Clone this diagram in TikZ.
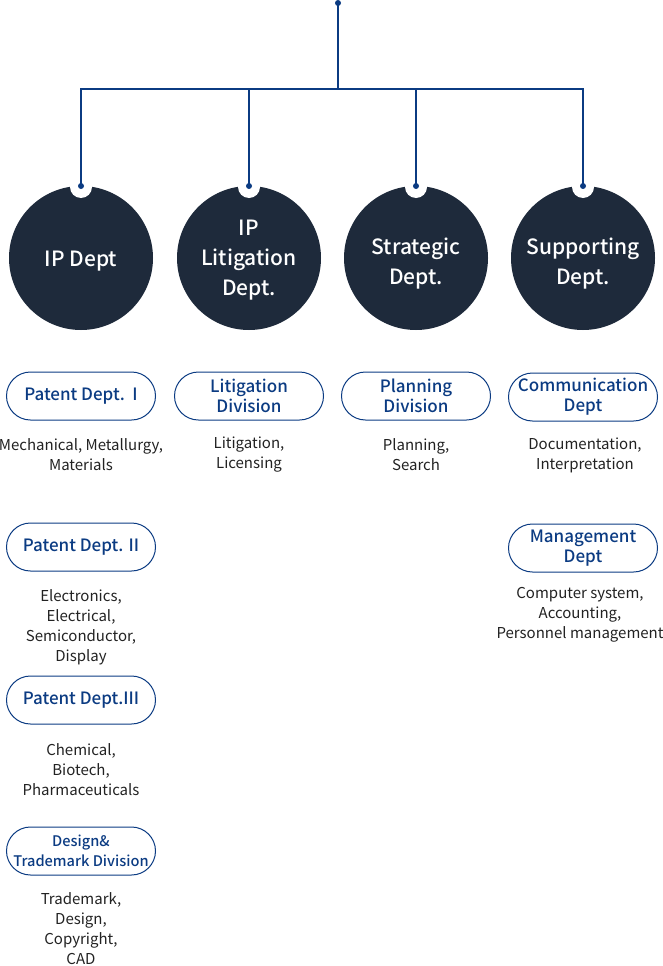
\documentclass[tikz,border=0pt]{standalone}
\usepackage{fontspec}
\setmainfont{Noto Sans CJK KR}
\newfontfamily\medfont{Noto Sans CJK KR Medium}
\definecolor{navy}{HTML}{0B3B82}
\definecolor{disc}{HTML}{1E2A3B}
\definecolor{txt}{HTML}{222222}
\tikzset{
  dept/.style={circle,fill=disc,minimum size=144pt,inner sep=0pt},
  depttext/.style={text=white,align=center,inner sep=0pt,font=\medfont\fontsize{21}{30}\selectfont},
  pill/.style={draw=navy,line width=1pt,rounded corners=24pt,minimum width=149pt,minimum height=48pt,inner sep=0pt,text=navy,align=center,font=\medfont\fontsize{17}{20}\selectfont},
  desc/.style={text=txt,align=center,inner sep=0pt,font=\fontsize{15}{20}\selectfont},
  notch/.style={circle,fill=white,minimum size=22pt,inner sep=0pt},
  link/.style={draw=navy,line width=1.6pt},
  dotc/.style={circle,fill=navy,minimum size=6pt,inner sep=0pt}
}
\begin{document}
\begin{tikzpicture}[x=1pt,y=-1pt]
\useasboundingbox (0,0) rectangle (663,966);
% departments
\node[dept] (d1) at (81,258) {};
\node[dept] (d2) at (249,258) {};
\node[dept] (d3) at (416,258) {};
\node[dept] (d4) at (583,258) {};
\node[depttext] (l1) at (81,261) {IP Dept};
\node[depttext] (l2) at (249,260) {IP\\Litigation\\Dept.};
\node[depttext] (l3) at (416,264) {Strategic\\Dept.};
\node[depttext] (l4) at (583,264) {Supporting\\Dept.};
\foreach \i/\x in {1/81,2/249,3/416,4/583}{
  \node[notch] (w\i) at (\x,187) {};
  \coordinate (n\i) at (\x,186);
}
\coordinate (top) at (338,3);
\coordinate (hub) at (338,89);
\draw[link] (top) -- (hub);
\draw[link] (n1) |- (hub) -| (n4);
\draw[link] (n2) -- (n2 |- hub);
\draw[link] (n3) -- (n3 |- hub);
\node[dotc] (t0) at (top) {};
\foreach \i in {1,2,3,4}{\node[dotc] (p\i) at (n\i) {};}
% pills
\node[pill] (a1) at (81,396) {Patent Dept.\ \ I};
\node[pill] (a2) at (81,547) {Patent Dept. II};
\node[pill] (a3) at (81,700) {Patent Dept.III};
\node[pill,font=\medfont\fontsize{14.6}{20}\selectfont] (a4) at (81,851) {Design\&\\Trademark Division};
\node[pill] (b1) at (249,396) {Litigation\\Division};
\node[pill] (c1) at (416,396) {Planning\\Division};
\node[pill] (e1) at (583,397) {Communication\\Dept};
\node[pill] (e2) at (583,548) {Management\\Dept};
% descriptions
\node[desc] (ta1) at (81,455) {Mechanical, Metallurgy,\\Materials};
\node[desc] (ta2) at (81,627) {Electronics,\\Electrical,\\Semiconductor,\\Display};
\node[desc] (ta3) at (81,770) {Chemical,\\Biotech,\\Pharmaceuticals};
\node[desc] (ta4) at (81,929) {Trademark,\\Design,\\Copyright,\\CAD};
\node[desc] (tb1) at (249,455) {Litigation,\\Licensing};
\node[desc] (tc1) at (416,455) {Planning,\\Search};
\node[desc] (te1) at (585,455) {Documentation,\\Interpretation};
\node[desc] (te2) at (580,615) {Computer system,\\Accounting,\\Personnel management};
\end{tikzpicture}
\end{document}
